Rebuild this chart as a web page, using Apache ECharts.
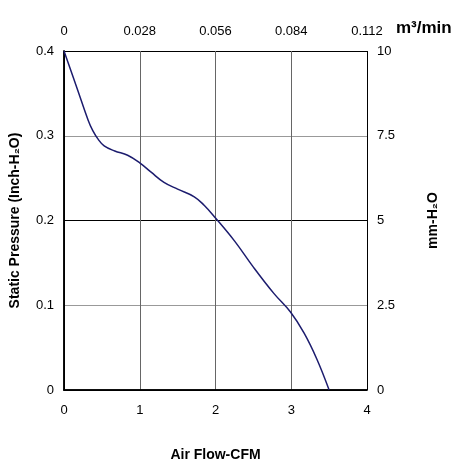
<!DOCTYPE html>
<html>
<head>
<meta charset="utf-8">
<script src="https://cdn.jsdelivr.net/npm/echarts@6/dist/echarts.min.js"></script>
<style>
  html, body { margin: 0; padding: 0; background: #fff; }
  #chart { width: 456px; height: 467px; }
</style>
</head>
<body>
<div id="chart"></div>
<script>
// airflow (CFM) vs static pressure (inch H2O)
const flowCfm = [0, 0.18, 0.32, 0.38, 0.45, 0.53, 0.67, 0.84, 1.0, 1.15, 1.32, 1.5, 1.72, 1.85, 2.0, 2.25, 2.5, 2.77, 2.99, 3.17, 3.34, 3.5]
const pressureInch = [0.4, 0.354, 0.318, 0.306, 0.296, 0.288, 0.282, 0.277, 0.268, 0.257, 0.245, 0.237, 0.228, 0.218, 0.203, 0.176, 0.145, 0.114, 0.092, 0.067, 0.036, 0]

// secondary scales
const m3Ticks = [0, 0.112, 0.028]   // min, max, step
const mmTicks = [0, 10, 2.5]

const font = 'Liberation Sans, Arial, sans-serif'
const labelStyle = { color: '#000', fontSize: 13, fontFamily: font }
const nameStyle = { color: '#000', fontSize: 14, fontWeight: 'bold', fontFamily: font }

const chart = echarts.init(document.getElementById('chart'))

chart.setOption({
  animation: false,
  backgroundColor: '#fff',
  title: {
    text: 'm³/min', left: 396, top: 20, padding: 0,
    textStyle: { color: '#000', fontSize: 17, fontWeight: 'bold', fontFamily: font }
  },
  grid: { left: 63, right: 89, top: 51, bottom: 73, containLabel: false },
  xAxis: [
    {
      type: 'value', position: 'bottom', min: 0, max: 4, interval: 1,
      name: 'Air Flow-CFM', nameLocation: 'middle', nameGap: 58, nameTextStyle: nameStyle,
      axisLine: { show: true, lineStyle: { color: '#000', width: 1.5 } },
      axisTick: { show: false },
      axisLabel: Object.assign({ margin: 14 }, labelStyle),
      splitLine: { show: true, lineStyle: { color: ['#000', '#666', '#666', '#666', '#000'], width: 1 } }
    },
    {
      type: 'value', position: 'top', min: m3Ticks[0], max: m3Ticks[1], interval: m3Ticks[2],
      axisLine: { show: true, lineStyle: { color: '#000', width: 1.5 } },
      axisTick: { show: false },
      axisLabel: Object.assign({ margin: 13 }, labelStyle),
      splitLine: { show: false }
    }
  ],
  yAxis: [
    {
      type: 'value', position: 'left', min: 0, max: 0.4, interval: 0.1,
      name: 'Static Pressure (Inch-H₂O)', nameLocation: 'middle', nameGap: 42, nameRotate: 90,
      nameTextStyle: nameStyle,
      axisLine: { show: true, lineStyle: { color: '#000', width: 1.5 } },
      axisTick: { show: false },
      axisLabel: Object.assign({ margin: 10 }, labelStyle),
      splitLine: { show: true, lineStyle: { color: ['#000', '#999', '#000', '#999', '#000'], width: 1 } }
    },
    {
      type: 'value', position: 'right', min: mmTicks[0], max: mmTicks[1], interval: mmTicks[2],
      name: 'mm-H₂O', nameLocation: 'middle', nameGap: 59, nameRotate: 90,
      nameTextStyle: nameStyle,
      axisLine: { show: true, lineStyle: { color: '#000', width: 1.5 } },
      axisTick: { show: false },
      axisLabel: Object.assign({ margin: 10 }, labelStyle),
      splitLine: { show: false }
    }
  ],
  series: [
    {
      type: 'line',
      xAxisIndex: 0,
      yAxisIndex: 0,
      data: flowCfm.map((x, i) => [x, pressureInch[i]]),
      smooth: 0.4,
      showSymbol: false,
      lineStyle: { color: '#1c1c6e', width: 1.5 }
    }
  ]
})
</script>
</body>
</html>
